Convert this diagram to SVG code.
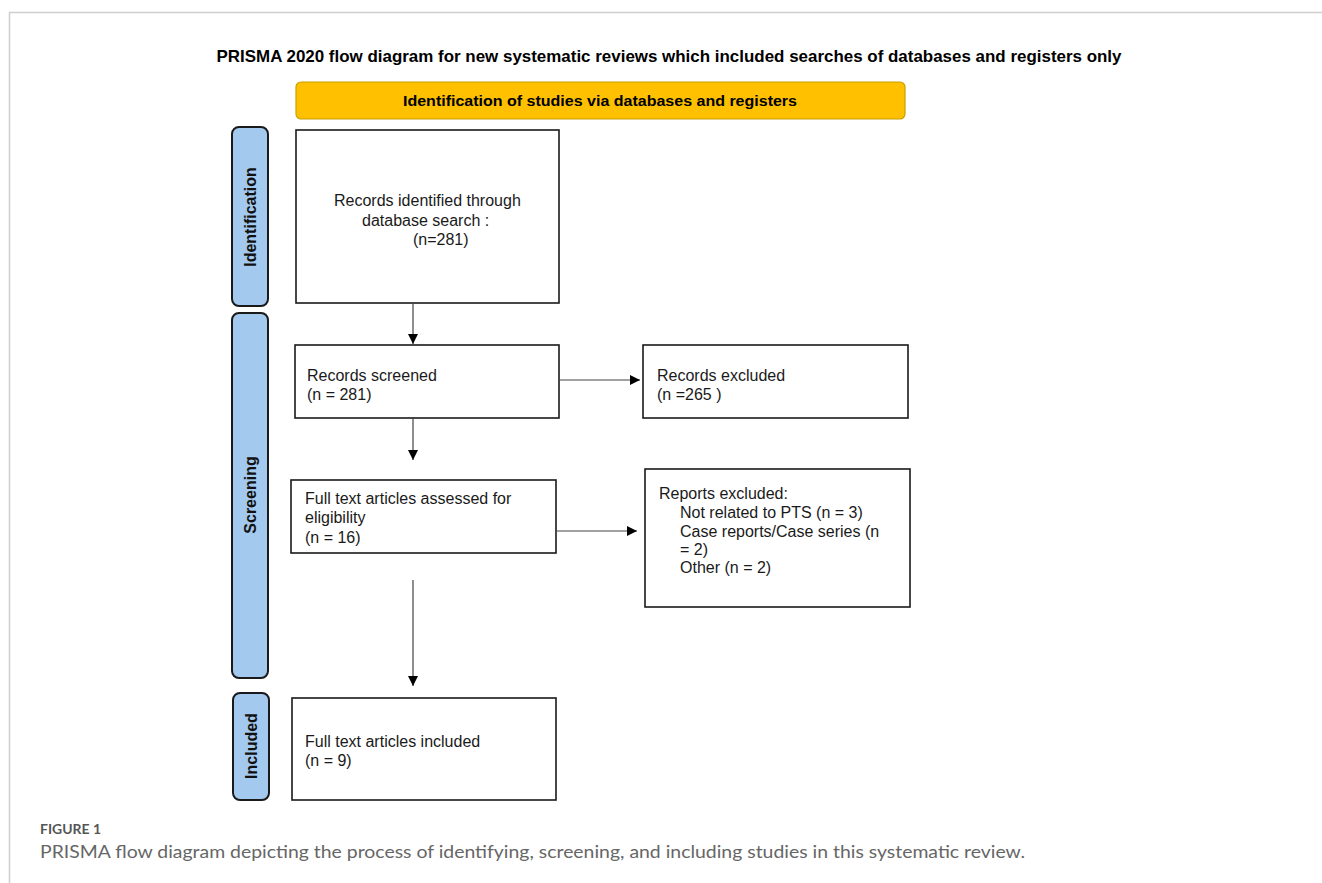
<svg xmlns="http://www.w3.org/2000/svg" width="1322" height="883" viewBox="0 0 1322 883">
<style>
.frame{stroke:#cfcfcf;stroke-width:1.5;fill:none}
.box{fill:#fff;stroke:#1a1a1a;stroke-width:1.6}
.side{fill:#a3c9ef;stroke:#1a1a1a;stroke-width:2}
.t{font-family:"Liberation Sans",Arial,sans-serif;font-size:16px;fill:#1a1a1a}
.sl{font-family:"Liberation Sans",Arial,sans-serif;font-size:16px;font-weight:bold;fill:#111;text-anchor:middle}
.conn line{stroke:#444;stroke-width:1.2}
</style>
<defs>
<marker id="ah" viewBox="0 0 10 10" refX="10" refY="5" markerWidth="10" markerHeight="10" markerUnits="userSpaceOnUse" orient="auto">
<path d="M0,0 L10,5 L0,10 z" fill="#000"/>
</marker>
</defs>
<rect width="1322" height="883" fill="#fff"/>
<path class="frame" d="M9.5,883 V12.5 H1322"/>
<text x="669" y="62" text-anchor="middle" font-family="Liberation Sans,Arial,sans-serif" font-weight="bold" font-size="16.5" textLength="905" lengthAdjust="spacingAndGlyphs" fill="#000">PRISMA 2020 flow diagram for new systematic reviews which included searches of databases and registers only</text>
<g id="banner">
<rect x="296" y="82" width="609" height="37" rx="5" fill="#ffc000" stroke="#c8a000" stroke-width="1.2"/>
<text x="600" y="106" text-anchor="middle" font-family="Liberation Sans,Arial,sans-serif" font-weight="bold" font-size="14.5" textLength="394" lengthAdjust="spacingAndGlyphs" fill="#000">Identification of studies via databases and registers</text>
</g>
<g id="label-identification">
<rect class="side" x="232" y="127" width="36" height="179" rx="7"/>
<text class="sl" transform="translate(256,217) rotate(-90)">Identification</text>
</g>
<g id="label-screening">
<rect class="side" x="232" y="313" width="36" height="365" rx="7"/>
<text class="sl" transform="translate(256,495) rotate(-90)">Screening</text>
</g>
<g id="label-included">
<rect class="side" x="233" y="693" width="36" height="107" rx="7"/>
<text class="sl" transform="translate(257,746) rotate(-90)">Included</text>
</g>
<g id="identified">
<rect class="box" x="296" y="130" width="263" height="173"/>
<text class="t" x="334" y="206">Records identified through</text>
<text class="t" x="362" y="226">database search :</text>
<text class="t" x="413" y="245">(n=281)</text>
</g>
<g id="screened">
<rect class="box" x="295" y="345" width="264" height="73"/>
<text class="t" x="307" y="381">Records screened</text>
<text class="t" x="307" y="400">(n = 281)</text>
</g>
<g id="excluded">
<rect class="box" x="643" y="345" width="265" height="73"/>
<text class="t" x="657" y="381">Records excluded</text>
<text class="t" x="657" y="400">(n =265 )</text>
</g>
<g id="assessed">
<rect class="box" x="291" y="480" width="265" height="73"/>
<text class="t" x="305" y="504">Full text articles assessed for</text>
<text class="t" x="305" y="523">eligibility</text>
<text class="t" x="305" y="543">(n = 16)</text>
</g>
<g id="reports-excluded">
<rect class="box" x="645" y="469" width="265" height="138"/>
<text class="t" x="659" y="499">Reports excluded:</text>
<text class="t" x="680" y="518">Not related to PTS (n = 3)</text>
<text class="t" x="680" y="537">Case reports/Case series (n</text>
<text class="t" x="680" y="555">= 2)</text>
<text class="t" x="680" y="573">Other (n = 2)</text>
</g>
<g id="included">
<rect class="box" x="292" y="698" width="264" height="102"/>
<text class="t" x="305" y="747">Full text articles included</text>
<text class="t" x="305" y="766">(n = 9)</text>
</g>
<g id="connectors" class="conn">
<line x1="413" y1="303" x2="413" y2="344" marker-end="url(#ah)"/>
<line x1="559" y1="380" x2="640" y2="380" marker-end="url(#ah)"/>
<line x1="413" y1="418" x2="413" y2="460" marker-end="url(#ah)"/>
<line x1="556" y1="531" x2="637" y2="531" marker-end="url(#ah)"/>
<line x1="413" y1="580" x2="413" y2="686" marker-end="url(#ah)"/>
</g>
<g id="caption">
<text x="40" y="834" font-family="Lato,Open Sans,sans-serif" font-size="13.5" font-weight="bold" fill="#555" textLength="61" lengthAdjust="spacingAndGlyphs">FIGURE 1</text>
<text x="40" y="858" font-family="Lato,Open Sans,sans-serif" font-size="17" fill="#666" textLength="985" lengthAdjust="spacingAndGlyphs">PRISMA flow diagram depicting the process of identifying, screening, and including studies in this systematic review.</text>
</g>
</svg>
